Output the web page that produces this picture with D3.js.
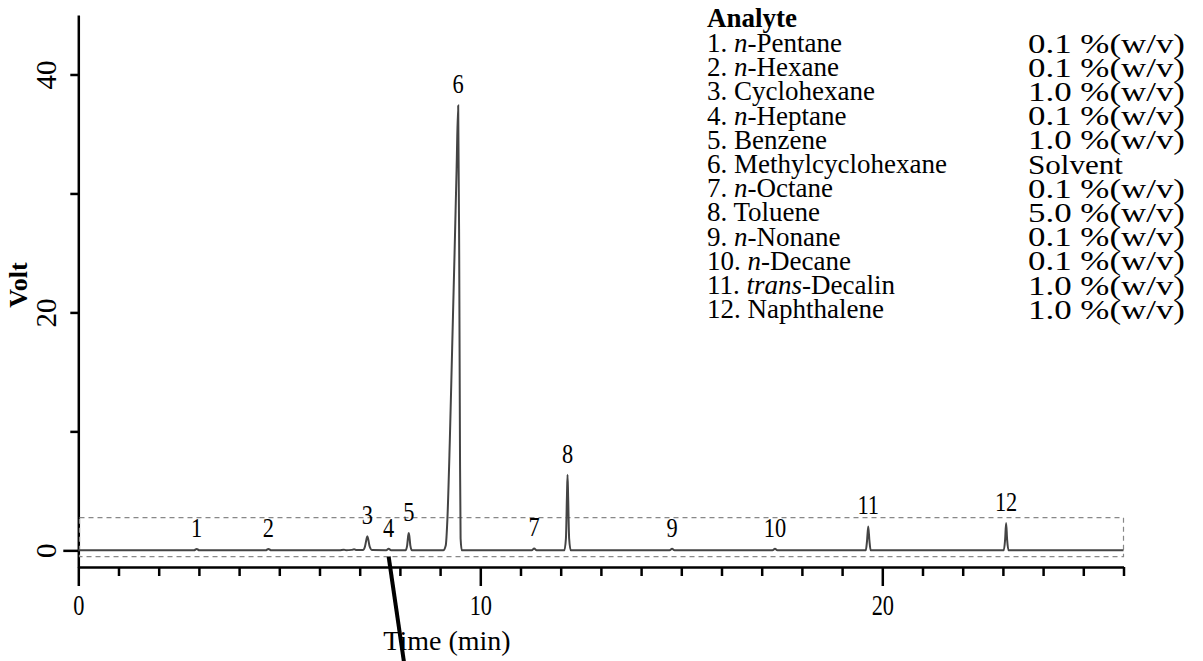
<!DOCTYPE html>
<meta charset="utf-8">
<style>
body { margin: 0; background: #fff; }
svg { font-family: "Liberation Serif", "Times New Roman", serif; }
.axis path, .axis line { stroke: #000; stroke-width: 2.5; }
.axis text { font-size: 29px; fill: #000; }
.trace { fill: none; stroke: #444; stroke-width: 2; }
.zoombox { fill: none; stroke: #888; stroke-width: 1.2; stroke-dasharray: 5,4; }
.peak-label { font-size: 28px; }
.legend text { font-size: 27px; }
</style>
<svg width="1203" height="661"></svg>
<script src="https://d3js.org/d3.v7.min.js"></script>
<script>

// chromatogram (time in min, signal in V)
var traceTime = [0, 2.88, 2.945, 3.01, 4.66, 4.73, 4.80, 6.50, 6.60, 6.66, 6.80, 6.86, 6.92,
  7.08, 7.13, 7.17, 7.19, 7.21, 7.25, 7.31, 7.66, 7.72, 7.78,
  8.14, 8.18, 8.205, 8.22, 8.235, 8.26, 8.30,
  9.08, 9.14, 9.18, 9.24, 9.30, 9.36, 9.41, 9.45, 9.475, 9.495, 9.51, 9.54,
  11.28, 11.34, 11.40, 12.09, 12.13, 12.155, 12.17, 12.185, 12.21, 12.25,
  14.71, 14.77, 14.83, 17.27, 17.33, 17.39,
  19.59, 19.62, 19.65, 19.68, 19.71, 23.02, 23.055, 23.08, 23.105, 23.14, 26];
var traceVolt = [0, 0, 0.12, 0, 0, 0.12, 0, 0, 0.06, 0.01, 0.04, 0.09, 0.02,
  0.02, 0.3, 0.95, 1.18, 0.95, 0.3, 0.02, 0.01, 0.14, 0.01,
  0, 0.4, 1.2, 1.46, 1.2, 0.4, 0,
  0, 0.4, 2.5, 9, 17, 25, 32, 37.4, 25, 8, 1, 0,
  0, 0.15, 0, 0, 1.0, 4.5, 6.35, 4.5, 1.0, 0,
  0, 0.13, 0, 0, 0.13, 0,
  0, 0.8, 2.0, 0.8, 0, 0, 0.9, 2.3, 0.9, 0, 0];

// numbered peaks
var peakNumbers = [1, 2, 3, 4, 5, 6, 7, 8, 9, 10, 11, 12];
var peakTimes = [2.945, 4.73, 7.19, 7.72, 8.22, 9.45, 11.34, 12.17, 14.77, 17.33, 19.65, 23.08];
var peakHeights = [0.12, 0.12, 1.18, 0.14, 1.46, 37.4, 0.15, 6.35, 0.13, 0.13, 2.0, 2.3];

// legend
var analytePrefix = ["n", "n", "", "n", "", "", "n", "", "n", "n", "trans", ""];
var analyteName = ["-Pentane", "-Hexane", "Cyclohexane", "-Heptane", "Benzene", "Methylcyclohexane",
  "-Octane", "Toluene", "-Nonane", "-Decane", "-Decalin", "Naphthalene"];
var analyteAmount = ["0.1 %(w/v)", "0.1 %(w/v)", "1.0 %(w/v)", "0.1 %(w/v)", "1.0 %(w/v)", "Solvent",
  "0.1 %(w/v)", "5.0 %(w/v)", "0.1 %(w/v)", "0.1 %(w/v)", "1.0 %(w/v)", "1.0 %(w/v)"];

// axes
var xTicks = d3.range(0, 27);
var xLabels = [0, 10, 20];
var yTicks = [0, 10, 20, 30, 40];
var yLabels = [0, 20, 40];

// dashed box marking the enlarged region
var boxTime = [0, 26];
var boxVolt = [-0.53, 2.75];

var svg = d3.select("svg");

var x = d3.scaleLinear().domain([0, 26]).range([78.3, 1123.5]);
var y = d3.scaleLinear().domain([-1.4, 45]).range([567, 15]);

// x axis
var xAxis = svg.append("g")
    .attr("class", "axis")
    .attr("transform", "translate(0," + y(-1.4) + ")")
    .call(d3.axisBottom(x).tickValues(xTicks).tickSize(9).tickSizeOuter(0).tickFormat(""))
    .attr("font-family", null)
    .attr("font-size", null);
xAxis.selectAll(".tick line")
    .attr("y2", function(d) { return xLabels.indexOf(d) >= 0 ? 19 : 9; });
xAxis.selectAll(".tick")
  .filter(function(d) { return xLabels.indexOf(d) >= 0; })
  .append("text")
    .attr("text-anchor", "middle")
    .attr("transform", "translate(0,48) scale(0.77,1)")
    .text(function(d) { return d; });

// y axis
var yAxis = svg.append("g")
    .attr("class", "axis")
    .attr("transform", "translate(" + x(0) + ",0)")
    .call(d3.axisLeft(y).tickValues(yTicks).tickSize(8).tickSizeOuter(0).tickFormat(""))
    .attr("font-family", null)
    .attr("font-size", null);
yAxis.selectAll(".tick line")
    .attr("x2", function(d) { return d === 0 ? -15 : -8; });
yAxis.selectAll(".tick")
  .filter(function(d) { return yLabels.indexOf(d) >= 0; })
  .append("text")
    .attr("text-anchor", "middle")
    .attr("dominant-baseline", "central")
    .attr("transform", "translate(-32,0) rotate(-90)")
    .text(function(d) { return d; });

svg.append("text")
    .attr("transform", "translate(18,285) rotate(-90)")
    .attr("text-anchor", "middle")
    .attr("dominant-baseline", "central")
    .style("font-size", "26px")
    .style("font-weight", "bold")
    .text("Volt");

svg.append("text")
    .attr("x", 447)
    .attr("y", 640)
    .attr("text-anchor", "middle")
    .attr("dominant-baseline", "central")
    .style("font-size", "28px")
    .text("Time (min)");

// zoom box
svg.append("rect")
    .attr("class", "zoombox")
    .attr("x", x(boxTime[0]) + 1.2)
    .attr("y", y(boxVolt[1]))
    .attr("width", x(boxTime[1]) - x(boxTime[0]) - 1.2)
    .attr("height", y(boxVolt[0]) - y(boxVolt[1]));

// trace
var line = d3.line()
    .x(function(d, i) { return x(traceTime[i]); })
    .y(function(d, i) { return y(traceVolt[i]); })
    .curve(d3.curveMonotoneX);

svg.append("path")
    .attr("class", "trace")
    .attr("d", line(traceTime));

// peak numbers, 22px above each apex
svg.append("g").selectAll("text")
  .data(peakNumbers)
  .enter().append("text")
    .attr("class", "peak-label")
    .attr("text-anchor", "middle")
    .attr("dominant-baseline", "central")
    .attr("transform", function(d, i) {
      return "translate(" + x(peakTimes[i]) + "," + (y(peakHeights[i]) - 22) + ") scale(0.8,1)";
    })
    .text(function(d) { return d; });

// pointer leaving the plot from peak 4
var px = x(peakTimes[3]), py = y(boxVolt[0]);
svg.append("line")
    .attr("x1", px).attr("y1", py)
    .attr("x2", px + 16).attr("y2", py + 110)
    .style("stroke", "#000")
    .style("stroke-width", 4);

// legend
var legend = svg.append("g").attr("class", "legend");
legend.append("text")
    .attr("x", 707)
    .attr("y", 18)
    .attr("dominant-baseline", "central")
    .style("font-weight", "bold")
    .text("Analyte");

var row = legend.selectAll(".row")
  .data(analyteName)
  .enter().append("g")
    .attr("class", "row")
    .attr("transform", function(d, i) { return "translate(0," + (43 + i * 24.2) + ")"; });

var label = row.append("text")
    .attr("x", 707)
    .attr("dominant-baseline", "central");
label.append("tspan").text(function(d, i) { return peakNumbers[i] + ". "; });
label.append("tspan")
    .style("font-style", "italic")
    .text(function(d, i) { return analytePrefix[i]; });
label.append("tspan").text(function(d) { return d; });

// the amount column is set in a wider face than the names
row.append("text")
    .attr("x", 1028)
    .attr("dominant-baseline", "central")
    .style("font-size", "28px")
    .attr("textLength", function(d, i) { return analyteAmount[i].indexOf("%") >= 0 ? 157 : 95; })
    .attr("lengthAdjust", "spacingAndGlyphs")
    .text(function(d, i) { return analyteAmount[i]; });

</script>
